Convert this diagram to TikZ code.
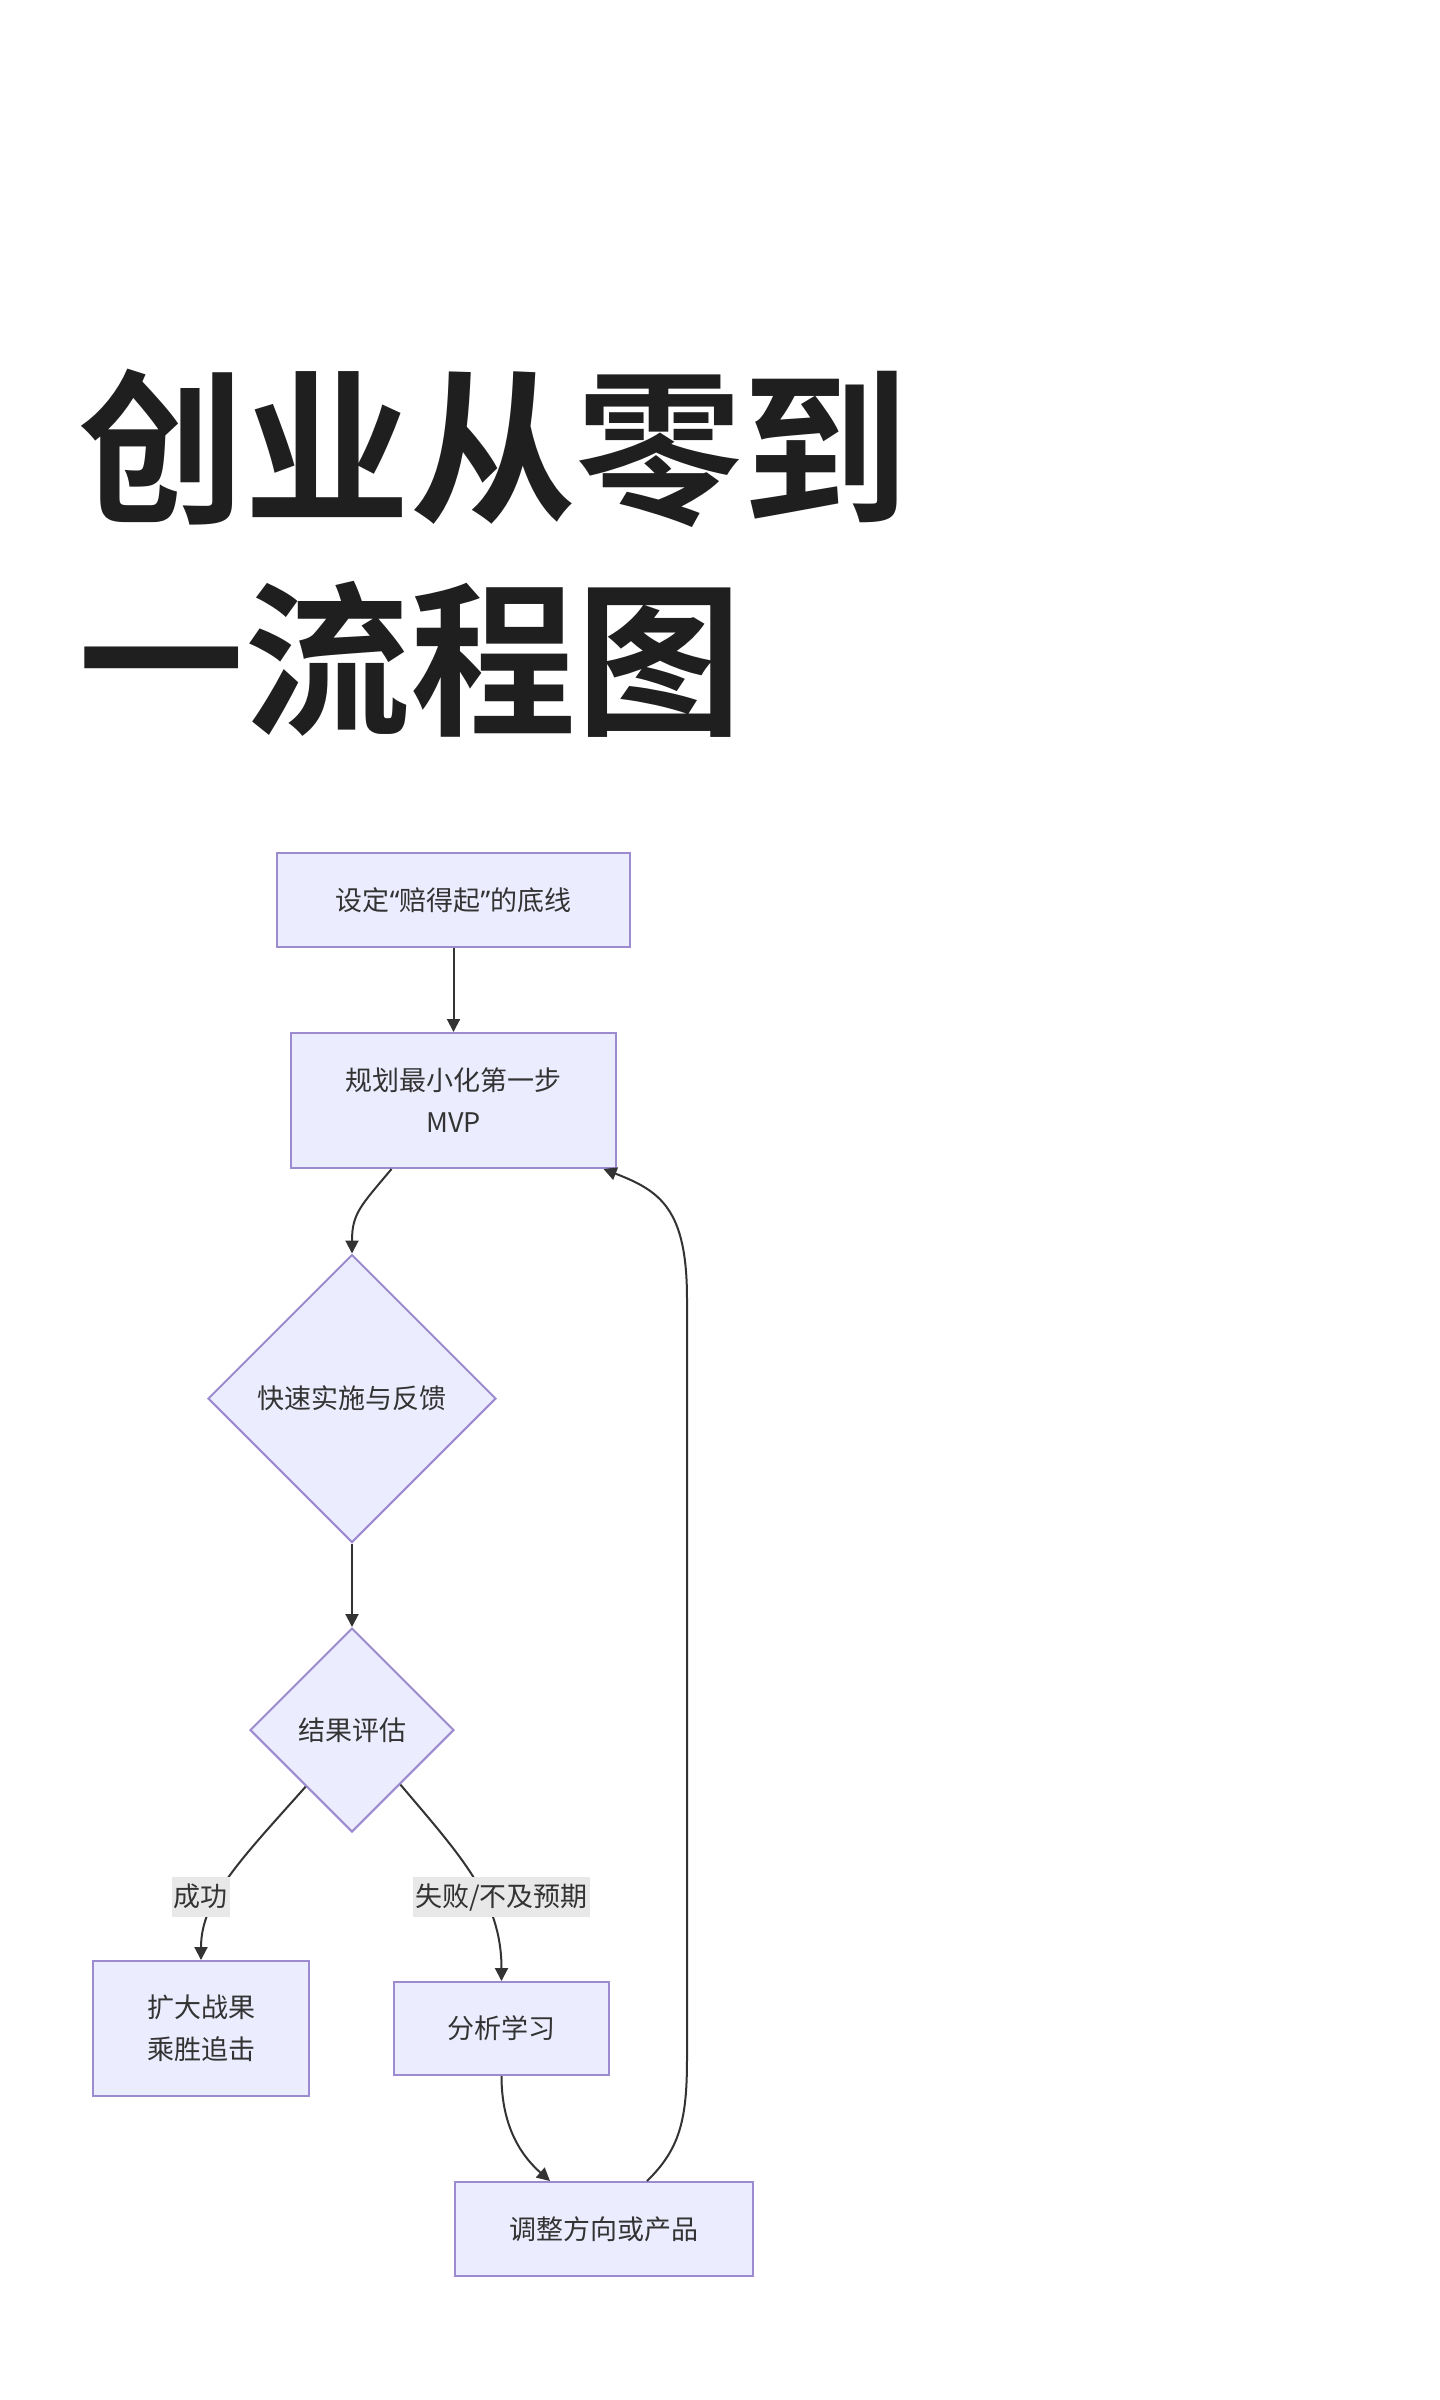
\documentclass[tikz,border=0pt]{standalone}
\usepackage{fontspec}
\usetikzlibrary{shapes.geometric,arrows.meta,calc}
\newfontfamily\cjk{Noto Sans CJK SC}
\newfontfamily\cjkt{Noto Sans CJK SC Bold}
\newfontfamily\latinq{Noto Sans}
\definecolor{mmfill}{HTML}{ECECFF}
\definecolor{mmstroke}{HTML}{9D8BCF}
\definecolor{mmtext}{HTML}{333333}
\definecolor{mmedge}{HTML}{333333}
\definecolor{mmlabel}{HTML}{E8E8E8}
\definecolor{titlec}{HTML}{1F1F1F}
\def\nodefont{\cjk\fontsize{13.5pt}{21pt}\selectfont}
\def\titlefont{\cjkt\fontsize{83pt}{100pt}\selectfont}
\begin{document}
\begin{tikzpicture}[x=0.5pt,y=-0.5pt,
  box/.style={draw=mmstroke, fill=mmfill, line width=1pt, inner sep=0pt, align=center, text=mmtext, font=\nodefont},
  dia/.style={diamond, draw=mmstroke, fill=mmfill, line width=1pt, inner sep=0pt, aspect=1, text=mmtext, font=\nodefont},
  edge/.style={draw=mmedge, line width=1pt, -{Triangle[length=6.5pt,width=6.5pt]}},
  elabel/.style={fill=mmlabel, text=mmtext, font=\nodefont, inner xsep=1pt, inner ysep=3.25pt, text height=11.5pt, text depth=2pt},
  title/.style={anchor=base west, inner sep=0pt, font=\titlefont, text=titlec}]
\useasboundingbox[fill=white] (0,0) rectangle (1440,2400);

\node[title] (t1) at (78,510) {创业从零到};
\node[title] (t2) at (78,722) {一流程图};

\node[box, minimum width=176.5pt, minimum height=47pt] (b1) at (453.5,900) {设定{\latinq “}赔得起{\latinq ”}的底线};
\node[box, minimum width=162.5pt, minimum height=67.5pt] (b2) at (453.5,1100.5) {规划最小化第一步\\MVP};
\node[dia, minimum width=144pt, minimum height=144pt] (d1) at (352,1398.5) {快速实施与反馈};
\node[dia, minimum width=102pt, minimum height=102pt] (d2) at (352,1730) {结果评估};
\node[box, minimum width=108pt, minimum height=67.5pt] (b3) at (201,2028.5) {扩大战果\\乘胜追击};
\node[box, minimum width=107.5pt, minimum height=46.5pt] (b4) at (501.5,2028.5) {分析学习};
\node[box, minimum width=149pt, minimum height=47pt] (b5) at (604,2229) {调整方向或产品};

\draw[edge] (b1) -- (b2);
\draw[edge] ($(b2.south)+(-62,0)$) .. controls +(-31,37) and +(0,-40) .. (d1.north);
\draw[edge] (d1) -- (d2);
\draw[edge] ($(d2.south)!0.45!(d2.west)$) .. controls +(-66,74) and +(0,-60) .. (b3.north);
\draw[edge] ($(d2.south)!0.47!(d2.east)$) .. controls +(60,71) and +(0,-82) .. (b4.north);
\draw[edge] (b4.south) .. controls +(0,55) and +(-25,-22) .. ($(b5.north)+(-54,0)$);
\draw[edge] ($(b5.north)+(43,0)$) .. controls +(33,-32) and +(0,60) .. ++(40,-122)
  -- ++(0,-760) .. controls +(0,-90) and +(57,22) .. ($(b2.south)+(150,0)$);

\node[elabel] (l1) at (200.5,1897) {成功};
\node[elabel] (l2) at (501.5,1897) {失败/不及预期};
\end{tikzpicture}
\end{document}
